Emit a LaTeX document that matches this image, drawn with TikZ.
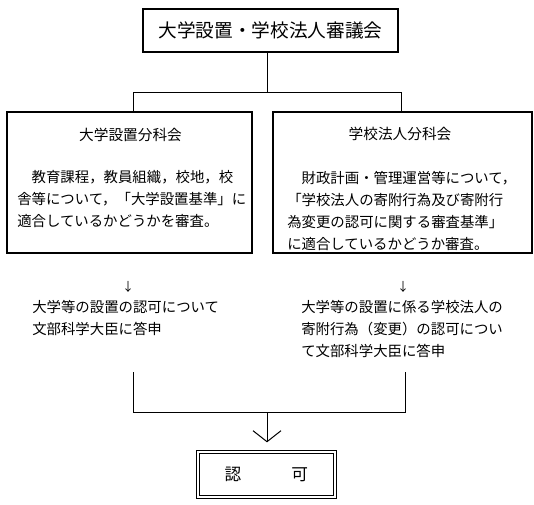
\documentclass[tikz,border=0pt]{standalone}
\usepackage{fontspec}
\setmainfont{Noto Sans CJK JP}
\usetikzlibrary{arrows.meta}
\begin{document}
\begin{tikzpicture}[x=0.75pt,y=-0.75pt,
    box/.style={draw,line width=1.5pt,inner sep=0pt},
    link/.style={line width=0.75pt},
    head/.style={inner sep=0pt,font=\fontsize{11}{13}\selectfont},
    body/.style={inner sep=0pt,align=left,anchor=north west,font=\fontsize{10.8}{16.5}\selectfont},
    down/.style={inner sep=0pt,font=\fontsize{9}{9}\selectfont}]
  \useasboundingbox (0,0) rectangle (534,504);
  % council and the two subcommittees
  \node[box,minimum width=191.25pt,minimum height=32.25pt,font=\fontsize{14}{16}\selectfont] (council) at (270.5,30.5) {大学設置・学校法人審議会};
  \node[box,minimum width=183.75pt,minimum height=105.75pt] (univ) at (129.5,182.5) {};
  \node[box,minimum width=194.6pt,minimum height=105.75pt] (corp) at (402.75,182.5) {};
  \coordinate (split) at (267,92);
  \coordinate (ltop) at (133,92);
  \coordinate (rtop) at (401,92);
  \draw[link] (split |- council.south) -- (split);
  \draw[link] (ltop |- univ.north) -- (ltop) -- (rtop) -- (rtop |- corp.north);

  \node[head] (univhead) at (130.5,135) {大学設置分科会};
  \node[head] (corphead) at (400,134) {学校法人分科会};
  \node[body] (univbody) at (17,170) {　教育課程，教員組織，校地，校\\舎等について，「大学設置基準」に\\適合しているかどうかを審査。};
  \node[body] (corpbody) at (287,171) {　財政計画・管理運営等について，\\「学校法人の寄附行為及び寄附行\\為変更の認可に関する審査基準」\\に適合しているかどうか審査。};

  % answers
  \node[down] (ldown) at (128,287) {↓};
  \node[down] (rdown) at (403,287) {↓};
  \node[body] (lans) at (32,300) {大学等の設置の認可について\\文部科学大臣に答申};
  \node[body] (rans) at (301,300) {大学等の設置に係る学校法人の\\寄附行為（変更）の認可につい\\て文部科学大臣に答申};

  % approval
  \node[draw,double,line width=0.75pt,double distance=1.5pt,minimum width=103.1pt,minimum height=33.75pt,inner sep=0pt,font=\fontsize{12.5}{14}\selectfont] (ok) at (266.3,474) {認　　　可};
  \coordinate (ltail) at (133,372);
  \coordinate (rtail) at (405,372);
  \coordinate (join) at (267,412);
  \draw[link] (ltail) -- (ltail |- join) -- (rtail |- join) -- (rtail);
  \draw[link,-{Straight Barb[length=8.25pt,width=21pt]},shorten >=6.5pt] (join) -- (join |- ok.north);
\end{tikzpicture}
\end{document}
